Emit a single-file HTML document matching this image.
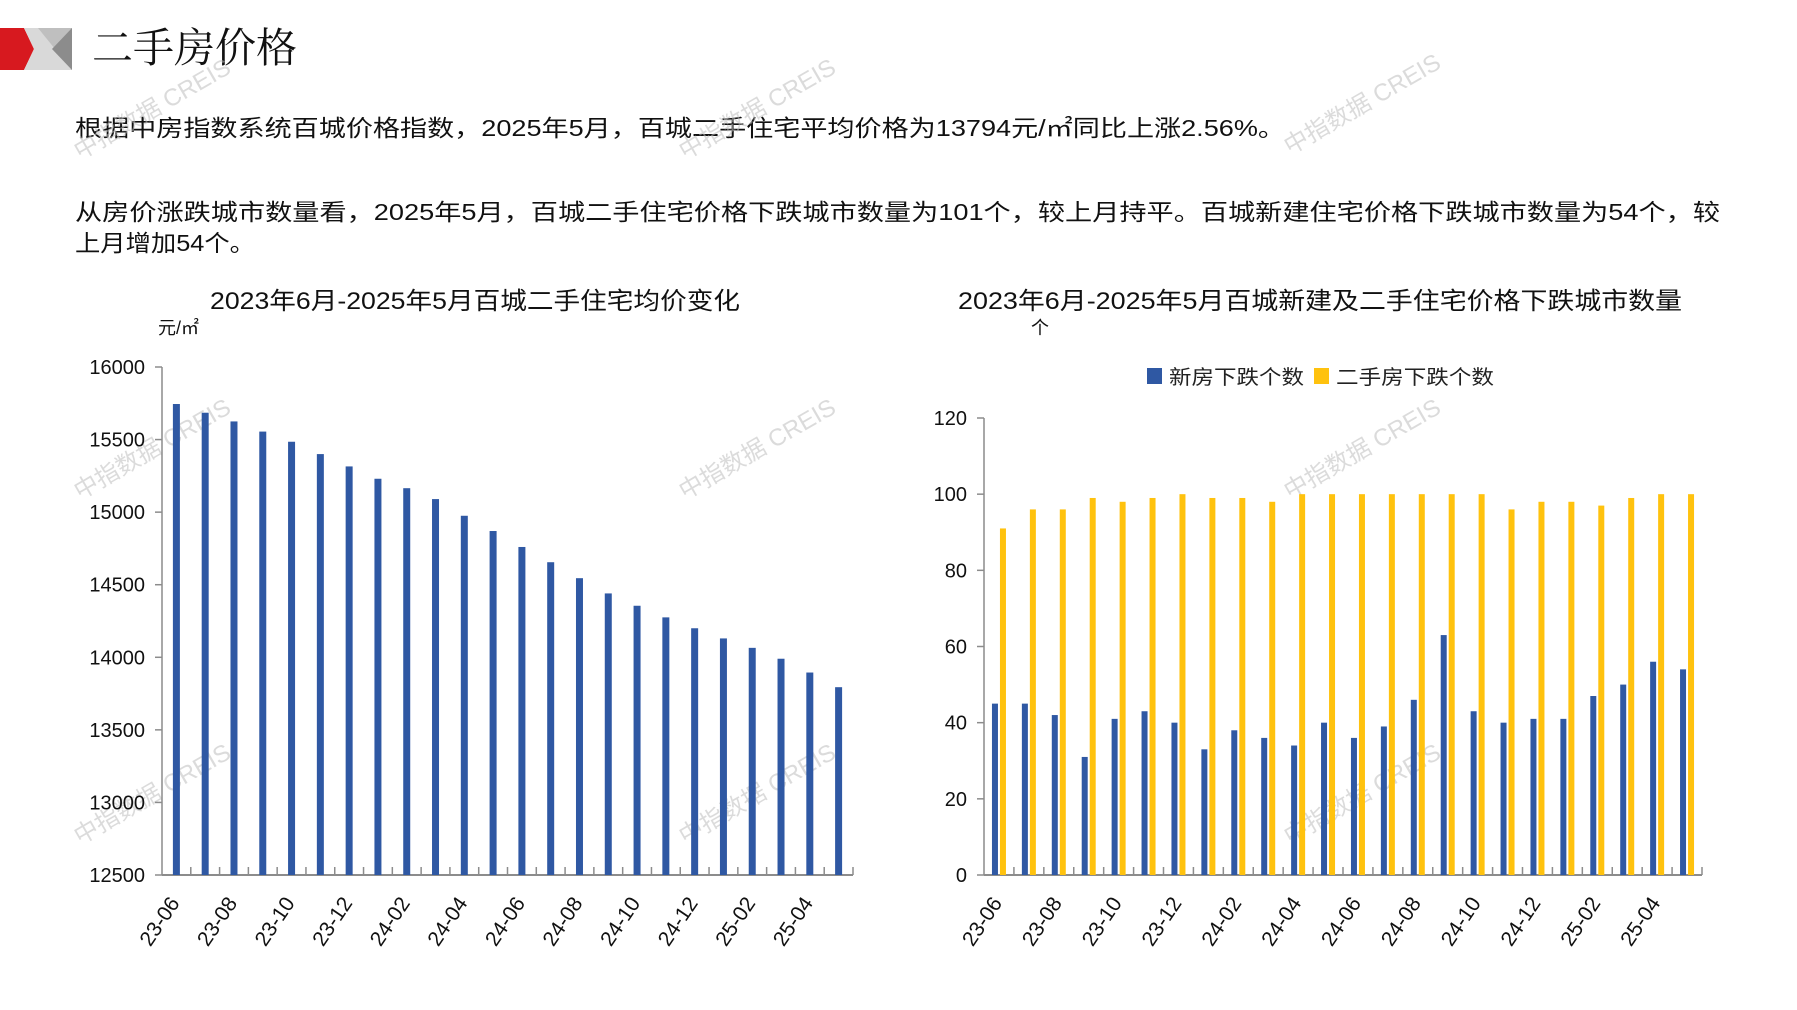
<!DOCTYPE html>
<html><head><meta charset="utf-8">
<style>
html,body{margin:0;padding:0;background:#fff;}
svg{display:block;font-family:"Liberation Sans","Noto Sans CJK SC",sans-serif;}
</style></head>
<body>
<svg id="s" width="1797" height="1010" viewBox="0 0 1797 1010" xmlns="http://www.w3.org/2000/svg">
  <g>
    <polygon points="0,28 24,28 34,49 24,70 0,70" fill="#d7191f"/>
    <polygon points="24,28 72,28 72,70 24,70 34,49" fill="#d9d9d9"/>
    <polygon points="38,28 72,28 72,70" fill="#bfbfbf"/>
    <polygon points="52,49 72,28 72,70" fill="#8c8c8c"/>
  </g>
  <text x="92" y="62" font-size="41" fill="#111" font-family="'Noto Serif CJK SC','Noto Sans CJK SC',serif">二手房价格</text>
  <text x="75" y="136" font-size="23" fill="#111" textLength="1210" lengthAdjust="spacingAndGlyphs">根据中房指数系统百城价格指数，2025年5月，百城二手住宅平均价格为13794元/㎡同比上涨2.56%。</text>
  <text x="75" y="220" font-size="23" fill="#111" textLength="1645" lengthAdjust="spacingAndGlyphs">从房价涨跌城市数量看，2025年5月，百城二手住宅价格下跌城市数量为101个，较上月持平。百城新建住宅价格下跌城市数量为54个，较</text>
  <text x="75" y="251" font-size="23" fill="#111" textLength="180" lengthAdjust="spacingAndGlyphs">上月增加54个。</text>

  <g id="wm"></g>

  <g id="c1">
    <text x="475" y="309" font-size="24" fill="#111" text-anchor="middle" textLength="530" lengthAdjust="spacingAndGlyphs">2023年6月-2025年5月百城二手住宅均价变化</text>
    <text x="158" y="334" font-size="18" fill="#111">元/㎡</text>
  </g>
  <g id="c2">
    <text x="1320" y="309" font-size="24" fill="#111" text-anchor="middle" textLength="724" lengthAdjust="spacingAndGlyphs">2023年6月-2025年5月百城新建及二手住宅价格下跌城市数量</text>
    <text x="1040" y="334" font-size="18" fill="#111" text-anchor="middle">个</text>
    <g>
      <rect x="1147" y="368" width="15" height="16" fill="#2f58a3"/>
      <text x="1169" y="384" font-size="20" fill="#222" textLength="135" lengthAdjust="spacingAndGlyphs">新房下跌个数</text>
      <rect x="1314" y="368" width="15" height="16" fill="#ffc20e"/>
      <text x="1336" y="384" font-size="20" fill="#222" textLength="158" lengthAdjust="spacingAndGlyphs">二手房下跌个数</text>
    </g>
  </g>
</svg>
<script>
const months = ["23-06","23-07","23-08","23-09","23-10","23-11","23-12","24-01","24-02","24-03","24-04","24-05","24-06","24-07","24-08","24-09","24-10","24-11","24-12","25-01","25-02","25-03","25-04","25-05"];
const avgPrice = [15745,15685,15625,15555,15485,15400,15315,15230,15165,15090,14975,14870,14760,14655,14545,14440,14355,14275,14200,14130,14065,13990,13895,13794];
const priceTicks = [12500,13000,13500,14000,14500,15000,15500,16000];
const newDecline = [45,45,42,31,41,43,40,33,38,36,34,40,36,39,46,63,43,40,41,41,47,50,56,54];
const secondDecline = [91,96,96,99,98,99,100,99,99,98,100,100,100,100,100,100,100,96,98,98,97,99,100,100];
const countTicks = [0,20,40,60,80,100,120];

const NS = "http://www.w3.org/2000/svg";
function mk(parent, tag, attrs){const e=document.createElementNS(NS,tag);for(const k in attrs)e.setAttribute(k,attrs[k]);parent.appendChild(e);return e;}

const wm = document.getElementById('wm');
[[80,160],[685,160],[1290,155],[80,500],[685,500],[1290,500],[80,845],[685,845],[1290,845]].forEach(p=>{
  const t = mk(wm,'text',{x:p[0],y:p[1],'font-size':24,fill:'#bdbdbd','fill-opacity':'0.55',transform:`rotate(-30 ${p[0]} ${p[1]})`});
  
  
  t.textContent='中指数据 CREIS';
});

function drawAxes(g, x0, x1, y0, ticks, yOf, nCat, catW, axisName){
  const ya = mk(g,'line',{x1:x0,y1:y0,x2:x0,y2:yOf(ticks[ticks.length-1]),stroke:'#8c8c8c','stroke-width':1.5});
  
  
  ticks.forEach(v=>{
    const y=yOf(v);
    mk(g,'line',{x1:x0-7,y1:y,x2:x0,y2:y,stroke:'#8c8c8c','stroke-width':1.5});
    const t=mk(g,'text',{x:x0-17,y:y+7,'font-size':20,fill:'#111','text-anchor':'end'});
    
    
    t.textContent=v;
  });
  const xa = mk(g,'line',{x1:x0,y1:y0,x2:x1,y2:y0,stroke:'#8c8c8c','stroke-width':2});
  
  
  for(let i=1;i<=nCat;i++){
    const x=x0+i*catW;
    mk(g,'line',{x1:x,y1:y0,x2:x,y2:y0-8,stroke:'#8c8c8c','stroke-width':1.5});
  }
  months.forEach((m,i)=>{
    if(i%2) return;
    const cx=x0+(i+0.5)*catW+4, cy=903;
    const t=mk(g,'text',{x:cx,y:cy,'font-size':21,fill:'#111','text-anchor':'end',transform:`rotate(-56 ${cx} ${cy})`});
    
    
    t.textContent=m;
  });
}

(function(){
  const g=document.getElementById('c1');
  const x0=162, y0=875, yTop=367, n=months.length, catW=(853-162)/n;
  const yOf=v=>y0-(v-12500)/(16000-12500)*(y0-yTop);
  drawAxes(g,x0,853,y0,priceTicks,yOf,n,catW,'left');
  avgPrice.forEach((v,i)=>{
    const cx=x0+(i+0.5)*catW;
    const r=mk(g,'rect',{x:cx-3.5,y:yOf(v),width:7,height:y0-yOf(v),fill:'#2f58a3'});
    
    
  });
})();

(function(){
  const g=document.getElementById('c2');
  const x0=984, x1=1702, y0=875, yTop=418, n=months.length, catW=(x1-x0)/n;
  const yOf=v=>y0-v/120*(y0-yTop);
  drawAxes(g,x0,x1,y0,countTicks,yOf,n,catW,'right');
  months.forEach((m,i)=>{
    const cx=x0+(i+0.5)*catW;
    const a=mk(g,'rect',{x:cx-7,y:yOf(newDecline[i]),width:6,height:y0-yOf(newDecline[i]),fill:'#2f58a3'});
    
    
    const b=mk(g,'rect',{x:cx+1,y:yOf(secondDecline[i]),width:6,height:y0-yOf(secondDecline[i]),fill:'#ffc20e'});
    
    
  });
})();
</script>
</body></html>
